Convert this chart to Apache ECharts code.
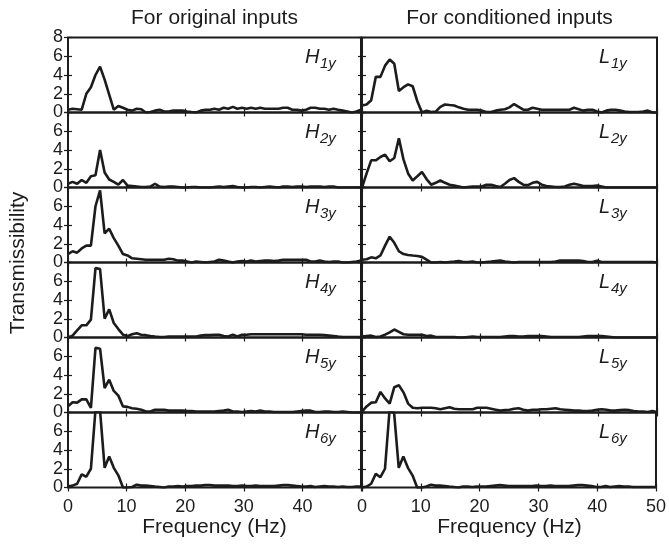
<!DOCTYPE html>
<html>
<head>
<meta charset="utf-8">
<script src="https://cdn.jsdelivr.net/npm/echarts@6/dist/echarts.min.js"></script>
<style>html,body{margin:0;padding:0;background:#fff}#c{width:669px;height:548px}</style>
</head>
<body>
<div id="c"></div>
<script>
// Frequency grid (Hz)
var freq = [0,0.78,1.56,2.34,3.13,3.91,4.69,5.47,6.25,7.03,7.81,8.59,9.38,10.16,10.94,11.72,12.5,13.28,14.06,14.84,15.63,16.41,17.19,17.97,18.75,19.53,20.31,21.09,21.88,22.66,23.44,24.22,25,25.78,26.56,27.34,28.13,28.91,29.69,30.47,31.25,32.03,32.81,33.59,34.38,35.16,35.94,36.72,37.5,38.28,39.06,39.84,40.63,41.41,42.19,42.97,43.75,44.53,45.31,46.09,46.88,47.66,48.44,49.22,50];

// Transmissibility for original inputs
var H1y = [0.3,0.4,0.35,0.3,2.0,2.7,4.0,4.9,3.5,1.9,0.3,0.7,0.5,0.3,0.2,0.4,0.35,0.0,0.05,0.2,0.3,0.1,0.1,0.2,0.2,0.2,0.1,0.05,0.0,0.2,0.3,0.3,0.4,0.3,0.5,0.4,0.6,0.4,0.5,0.4,0.5,0.4,0.5,0.4,0.4,0.4,0.4,0.5,0.5,0.3,0.3,0.2,0.3,0.5,0.5,0.4,0.4,0.3,0.4,0.3,0.2,0.1,0.0,0.1,0.3];
var H2y = [0.4,0.6,0.4,0.8,0.5,1.2,1.3,4.0,1.6,0.85,0.6,0.3,0.8,0.2,0.15,0.1,0.05,0.05,0.1,0.4,0.1,0.05,0.1,0.1,0.05,0.0,0.0,0.05,0.05,0.0,0.0,0.0,0.05,0.1,0.05,0.1,0.15,0.05,0.0,0.0,0.05,0.05,0.0,0.05,0.1,0.05,0.0,0.1,0.1,0.05,0.1,0.1,0.05,0.1,0.1,0.1,0.05,0.1,0.1,0.0,0.0,0.0,0.0,0.0,0.0];
var H3y = [0.9,1.2,1.05,1.5,1.8,1.8,6.0,7.7,3.1,3.6,2.6,1.8,0.9,0.75,0.45,0.4,0.35,0.3,0.3,0.3,0.3,0.3,0.4,0.35,0.2,0.2,0.1,0.0,0.1,0.05,0.0,0.05,0.1,0.3,0.2,0.1,0.0,0.1,0.15,0.1,0.2,0.1,0.15,0.2,0.2,0.15,0.2,0.3,0.3,0.3,0.3,0.3,0.3,0.1,0.1,0.2,0.1,0.05,0.1,0.1,0.0,0.0,0.05,0.1,0.2];
var H4y = [0.0,0.2,0.75,1.3,1.3,1.9,7.4,7.3,2.0,3.0,1.55,0.9,0.3,0.15,0.35,0.45,0.3,0.25,0.15,0.1,0.05,0.05,0.1,0.1,0.1,0.1,0.1,0.1,0.1,0.2,0.25,0.25,0.3,0.3,0.15,0.1,0.3,0.1,0.3,0.3,0.35,0.35,0.35,0.35,0.35,0.35,0.35,0.35,0.35,0.35,0.35,0.35,0.3,0.3,0.3,0.3,0.25,0.2,0.15,0.1,0.05,0.05,0.05,0.05,0.05];
var H5y = [0.65,1.1,1.05,1.4,1.4,0.5,6.9,6.8,2.6,3.5,2.3,1.8,0.65,0.6,0.45,0.4,0.3,0.1,0.1,0.3,0.3,0.3,0.2,0.2,0.2,0.2,0.15,0.15,0.1,0.1,0.1,0.1,0.1,0.15,0.2,0.3,0.1,0.1,0.05,0.1,0.15,0.1,0.2,0.1,0.1,0.05,0.05,0.05,0.05,0.05,0.1,0.15,0.2,0.2,0.05,0.05,0.1,0.1,0.05,0.05,0.1,0.05,0.0,0.0,0.0];
var H6y = [0.1,0.2,0.4,1.4,1.15,2.0,8.3,8.2,2.1,3.3,2.1,1.3,0.0,0.0,0.05,0.3,0.2,0.2,0.15,0.1,0.05,0.0,0.1,0.1,0.15,0.1,0.15,0.15,0.2,0.2,0.25,0.25,0.2,0.2,0.2,0.2,0.15,0.15,0.2,0.15,0.15,0.2,0.15,0.15,0.15,0.15,0.2,0.25,0.25,0.2,0.15,0.1,0.1,0.15,0.05,0.1,0.15,0.1,0.1,0.05,0.1,0.05,0.05,0.1,0.1];

// Transmissibility for conditioned inputs
var L1y = [0.75,0.85,1.3,3.8,3.8,5.0,5.65,5.2,2.3,2.7,3.0,2.8,1.2,0.0,0.2,0.05,0.1,0.6,0.85,0.8,0.75,0.55,0.4,0.3,0.3,0.3,0.2,0.05,0.05,0.2,0.3,0.35,0.55,0.9,0.6,0.3,0.3,0.5,0.4,0.3,0.3,0.3,0.3,0.3,0.3,0.3,0.5,0.35,0.2,0.3,0.3,0.1,0.0,0.2,0.3,0.3,0.2,0.1,0.05,0.05,0.05,0.1,0.2,0.0,0.0];
var L2y = [0.0,1.5,2.9,2.9,3.25,3.5,2.8,3.15,5.25,3.0,1.5,0.75,1.2,1.65,0.9,0.3,0.5,0.75,0.5,0.3,0.2,0.1,0.0,0.05,0.1,0.1,0.1,0.3,0.3,0.15,0.05,0.4,0.8,1.0,0.6,0.3,0.25,0.5,0.6,0.3,0.15,0.1,0.05,0.05,0.1,0.3,0.4,0.3,0.15,0.15,0.15,0.2,0.1,0.0,0.0,0.0,0.0,0.0,0.0,0.0,0.0,0.0,0.0,0.0,0.0];
var L3y = [0.3,0.35,0.55,0.45,0.75,1.8,2.75,2.1,1.2,0.9,0.8,0.75,0.7,0.6,0.3,0.0,0.0,0.05,0.0,0.05,0.1,0.15,0.05,0.05,0.1,0.0,0.0,0.05,0.1,0.15,0.2,0.1,0.05,0.0,0.05,0.05,0.05,0.05,0.05,0.05,0.05,0.05,0.1,0.2,0.2,0.2,0.2,0.2,0.15,0.05,0.05,0.2,0.05,0.05,0.05,0.05,0.05,0.05,0.05,0.05,0.05,0.05,0.05,0.05,0.0];
var L4y = [0.1,0.15,0.2,0.05,0.1,0.3,0.55,0.85,0.6,0.35,0.3,0.3,0.3,0.3,0.15,0.2,0.05,0.05,0.05,0.05,0.05,0.0,0.0,0.05,0.1,0.05,0.05,0.05,0.05,0.05,0.05,0.1,0.15,0.15,0.1,0.1,0.15,0.15,0.15,0.15,0.1,0.05,0.05,0.05,0.05,0.05,0.05,0.05,0.1,0.15,0.15,0.15,0.15,0.1,0.05,0.0,0.0,0.0,0.0,0.0,0.0,0.0,0.0,0.0,0.0];
var L5y = [0.1,0.65,1.05,1.1,2.2,1.5,0.95,2.7,2.9,2.15,0.95,0.5,0.45,0.5,0.5,0.5,0.45,0.35,0.45,0.55,0.4,0.35,0.35,0.35,0.35,0.5,0.5,0.5,0.4,0.3,0.2,0.25,0.3,0.4,0.45,0.3,0.2,0.3,0.3,0.35,0.35,0.4,0.45,0.35,0.3,0.25,0.2,0.2,0.15,0.15,0.2,0.3,0.35,0.3,0.2,0.2,0.25,0.3,0.25,0.15,0.1,0.1,0.05,0.15,0.05];
var L6y = [0.0,0.1,0.4,1.45,1.1,2.0,8.3,7.9,2.1,3.3,2.1,1.3,0.0,0.0,0.1,0.3,0.2,0.2,0.15,0.1,0.05,0.0,0.1,0.1,0.05,0.1,0.1,0.1,0.15,0.2,0.25,0.2,0.15,0.15,0.15,0.15,0.15,0.15,0.2,0.15,0.15,0.2,0.15,0.15,0.15,0.15,0.2,0.25,0.25,0.2,0.15,0.05,0.05,0.15,0.05,0.1,0.15,0.1,0.1,0.05,0.05,0.05,0.05,0.05,0.05];

var leftSeries = [H1y,H2y,H3y,H4y,H5y,H6y];
var rightSeries = [L1y,L2y,L3y,L4y,L5y,L6y];
var subNames = ['1y','2y','3y','4y','5y','6y'];
var colTitles = ['For original inputs','For conditioned inputs'];
var xTicks = [0,10,20,30,40,50];
var yTicks = [0,2,4,6,8];

var FONT = 'Liberation Sans, Arial, sans-serif';
var INK = '#1c1c1c';
var ROW_TOP = 37.5, ROW_H = 75;
var cols = [{left:68, width:293}, {left:362, width:295}];

var grids=[], xAxes=[], yAxes=[], series=[], graphics=[];
for (var c=0;c<2;c++){
  for (var r=0;r<6;r++){
    var gi = grids.length;
    grids.push({left:cols[c].left, top:ROW_TOP+r*ROW_H, width:cols[c].width, height:ROW_H,
      show:true, borderColor:INK, borderWidth:2, backgroundColor:'transparent'});
    var bottomRow = (r===5);
    var baseX = {type:'value', gridIndex:gi, min:xTicks[0], max:xTicks[xTicks.length-1], interval:10,
      axisLine:{show:false}, splitLine:{show:false},
      axisTick:{show:true, inside:true, length:4, lineStyle:{color:INK, width:1.2}}};
    xAxes.push(Object.assign({}, baseX, {position:'bottom',
      axisLabel:{show:bottomRow, color:INK, fontSize:18, fontFamily:FONT, margin:11,
        showMaxLabel:(c===1), showMinLabel:true}}));
    xAxes.push(Object.assign({}, baseX, {position:'top', axisLabel:{show:false}}));
    var baseY = {type:'value', gridIndex:gi, min:yTicks[0], max:yTicks[yTicks.length-1], interval:2,
      axisLine:{show:false}, splitLine:{show:false},
      axisTick:{show:true, inside:true, length:4, lineStyle:{color:INK, width:1.2}}};
    yAxes.push(Object.assign({}, baseY, {position:'left',
      axisLabel:{show:(c===0), color:INK, fontSize:18, fontFamily:FONT, margin:5,
        showMaxLabel:(r===0), showMinLabel:true}}));
    yAxes.push(Object.assign({}, baseY, {position:'right', axisLabel:{show:false}}));
    var vals = (c===0?leftSeries:rightSeries)[r];
    series.push({type:'line', xAxisIndex:2*gi, yAxisIndex:2*gi, symbol:'none', clip:true,
      lineStyle:{color:INK, width:2.6}, z:3,
      data: freq.map(function(f,i){return [f, vals[i]];})});
    // subplot label
    var lx = cols[c].left + cols[c].width - (c===0?56:58);
    var ly = ROW_TOP + r*ROW_H + 10;
    graphics.push({type:'text', x:lx, y:ly, z:10,
      style:{text:(c===0?'H':'L'), font:'italic 20px '+FONT, fill:INK}});
    graphics.push({type:'text', x:lx+(c===0?15:12), y:ly+9, z:10,
      style:{text:subNames[r], font:'italic 15px '+FONT, fill:INK}});
  }
  graphics.push({type:'text', x:cols[c].left+cols[c].width/2, y:18, z:10,
    style:{text:colTitles[c], font:'21px '+FONT, fill:INK, textAlign:'center', textVerticalAlign:'middle'}});
  graphics.push({type:'text', x:cols[c].left+cols[c].width/2, y:527, z:10,
    style:{text:'Frequency (Hz)', font:'21px '+FONT, fill:INK, textAlign:'center', textVerticalAlign:'middle'}});
}
graphics.push({type:'text', x:18, y:263, rotation:Math.PI/2, z:10,
  style:{text:'Transmissibility', font:'21px '+FONT, fill:INK, textAlign:'center', textVerticalAlign:'middle'}});

var chart = echarts.init(document.getElementById('c'), null, {renderer:'canvas'});
chart.setOption({animation:false, backgroundColor:'#fff',
  grid:grids, xAxis:xAxes, yAxis:yAxes, series:series, graphic:graphics});
</script>
</body>
</html>
